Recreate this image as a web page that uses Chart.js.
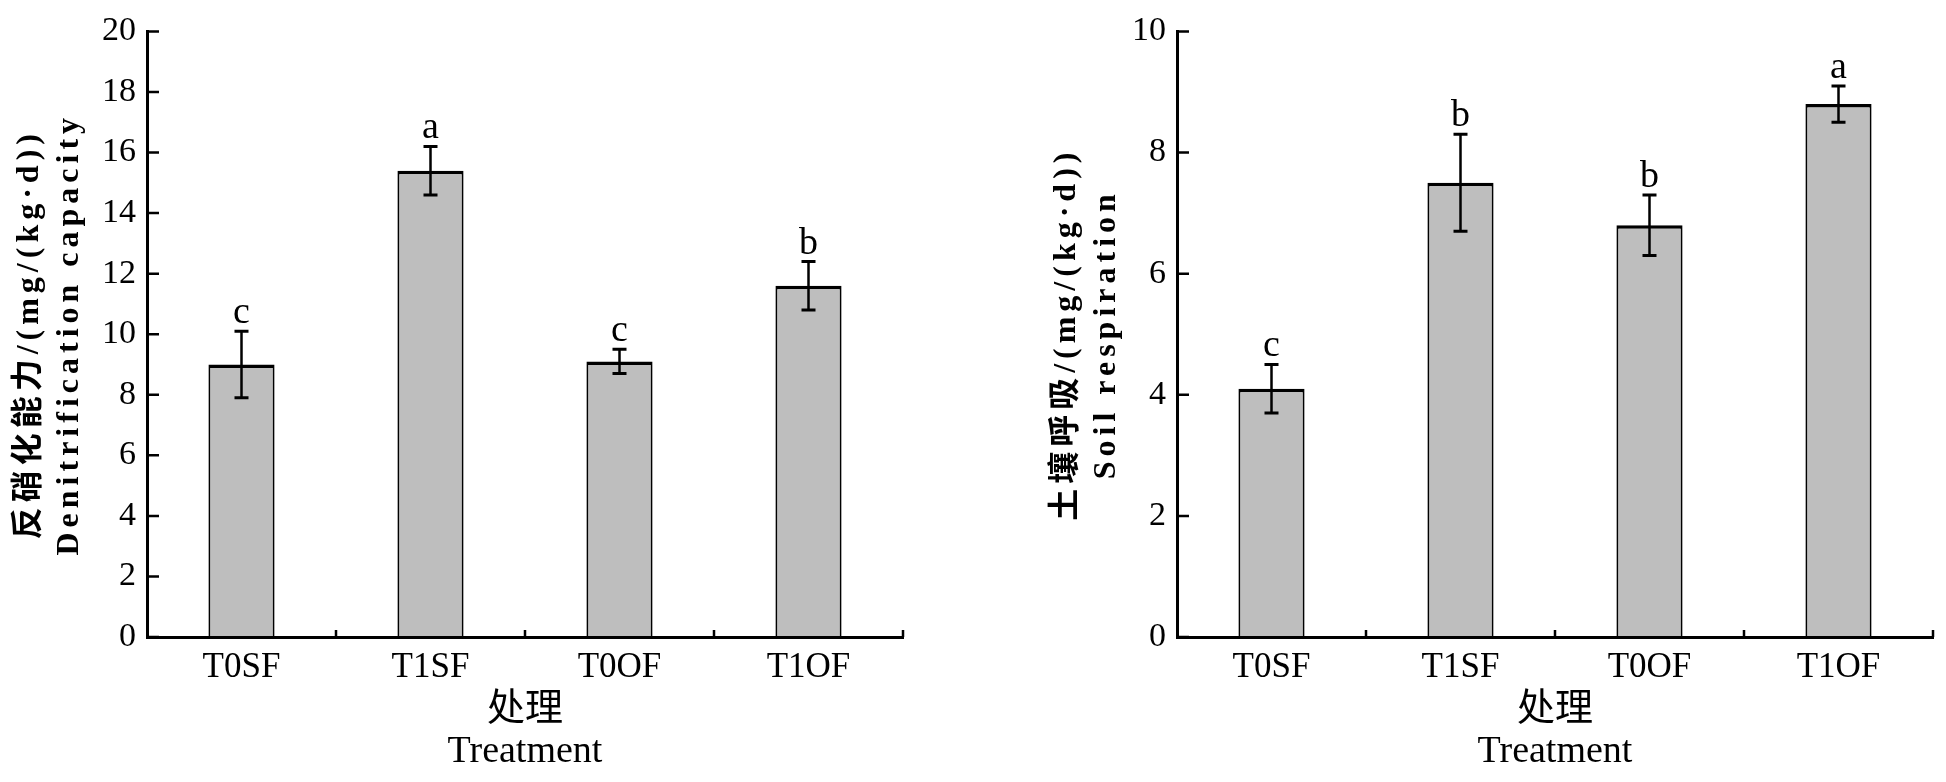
<!DOCTYPE html>
<html>
<head>
<meta charset="utf-8">
<script src="https://cdn.jsdelivr.net/npm/chart.js@4.4.0/dist/chart.umd.min.js"></script>
<style>
html,body{margin:0;padding:0;background:#fff;overflow:hidden;}
#wrap{position:relative;width:1946px;height:782px;}
canvas{position:absolute;top:0;}
#c1{left:0;}
#c2{left:973px;}
</style>
</head>
<body>
<div id="wrap">
<canvas id="c1" width="973" height="782"></canvas>
<canvas id="c2" width="973" height="782"></canvas>
</div>
<script>
const categories = ['T0SF', 'T1SF', 'T0OF', 'T1OF'];

const denitValues = [9.0, 15.4, 9.1, 11.6];
const denitErrors = [1.1, 0.8, 0.4, 0.8];
const denitLetters = ['c', 'a', 'c', 'b'];

const respValues = [4.1, 7.5, 6.8, 8.8];
const respErrors = [0.4, 0.8, 0.5, 0.3];
const respLetters = ['c', 'b', 'b', 'a'];

const denitTitle = ['反硝化能力/(mg/(kg·d))', 'Denitrification capacity'];
const respTitle = ['土壤呼吸/(mg/(kg·d))', 'Soil respiration'];
const xTitle = ['处理', 'Treatment'];

const denitMax = 20;
const respMax = 10;
const tickStep = 2;

const decor = {
  id: 'decor',
  beforeDraw(chart) {
    // spaced (typewriter-like) look for the y-axis title, drawn in the first layer
    chart.ctx.letterSpacing = '5px';
  },
  beforeDatasetsDraw(chart) {
    chart.ctx.letterSpacing = '0px';
  },
  afterDatasetsDraw(chart, args, opts) {
    const ctx = chart.ctx;
    const y = chart.scales.y;
    const meta = chart.getDatasetMeta(0);
    ctx.save();
    ctx.strokeStyle = '#000';
    ctx.fillStyle = '#000';
    meta.data.forEach((bar, i) => {
      const v = opts.values[i], e = opts.errors[i];
      const px = bar.x;
      const yt = y.getPixelForValue(v + e);
      const yb = y.getPixelForValue(v - e);
      ctx.lineWidth = 2.5;
      ctx.beginPath();
      ctx.moveTo(px, yt);
      ctx.lineTo(px, yb);
      ctx.stroke();
      ctx.lineWidth = 3;
      ctx.beginPath();
      ctx.moveTo(px - 7, yt);
      ctx.lineTo(px + 7, yt);
      ctx.moveTo(px - 7, yb);
      ctx.lineTo(px + 7, yb);
      ctx.stroke();
      ctx.font = '38px "Liberation Serif"';
      ctx.textAlign = 'center';
      ctx.textBaseline = 'alphabetic';
      ctx.fillText(opts.letters[i], px, yt - 8);
    });
    ctx.restore();
  },
  afterDraw(chart) {
    const ctx = chart.ctx;
    const x = chart.scales.x, y = chart.scales.y;
    const area = chart.chartArea;
    ctx.save();
    ctx.strokeStyle = '#000';
    ctx.lineWidth = 2.5;
    ctx.beginPath();
    y.ticks.forEach(t => {
      const py = y.getPixelForValue(t.value);
      ctx.moveTo(area.left, py);
      ctx.lineTo(area.left + 12, py);
    });
    for (let i = 1; i <= categories.length; i++) {
      const px = x.getPixelForValue(i - 0.5);
      ctx.moveTo(px, area.bottom);
      ctx.lineTo(px, area.bottom - 7);
    }
    ctx.stroke();
    ctx.restore();
  }
};

function makeChart(id, values, errors, letters, yTitle, yMax, cfg) {
  return new Chart(document.getElementById(id), {
    type: 'bar',
    data: {
      labels: categories,
      datasets: [{
        data: values,
        backgroundColor: '#bebebe',
        borderColor: '#000',
        borderWidth: {top: 3.5, left: 2, right: 2, bottom: 0},
        borderSkipped: false,
        barPercentage: 0.35,
        categoryPercentage: 1.0
      }]
    },
    options: {
      responsive: false,
      animation: false,
      events: [],
      layout: {padding: {left: 0, right: cfg.padRight, top: 29, bottom: 0}},
      plugins: {
        legend: {display: false},
        tooltip: {enabled: false},
        decor: {values: values, errors: errors, letters: letters}
      },
      scales: {
        x: {
          type: 'category',
          offset: true,
          grid: {display: false, drawTicks: false, z: 1},
          border: {display: true, color: '#000', width: 3, z: 1},
          ticks: {z: 1, color: '#000', padding: 10, font: {family: '"Liberation Serif"', size: 35}},
          title: {
            display: true,
            text: xTitle,
            color: '#000',
            font: {family: '"Liberation Serif", "Noto Sans CJK SC"', size: 38, lineHeight: 1.105},
            padding: {top: 0, bottom: 9}
          },
          afterFit(scale) { scale.height = 145; }
        },
        y: {
          min: 0,
          max: yMax,
          grid: {display: false, drawTicks: false},
          border: {display: true, color: '#000', width: 3},
          ticks: {z: 1, stepSize: tickStep, color: '#000', padding: 11, font: {family: '"Liberation Serif"', size: 34}},
          title: {
            display: true,
            text: yTitle,
            color: '#000',
            font: {family: '"Liberation Serif", "Noto Sans CJK SC"', size: 32, weight: 'bold', lineHeight: 1.25},
            padding: {top: cfg.titlePad, bottom: 0}
          },
          afterFit(scale) { scale.width = cfg.yWidth; }
        }
      }
    },
    plugins: [decor]
  });
}

makeChart('c1', denitValues, denitErrors, denitLetters, denitTitle, denitMax, {padRight: 70, yWidth: 147, titlePad: 10});
makeChart('c2', respValues, respErrors, respLetters, respTitle, respMax, {padRight: 13, yWidth: 204, titlePad: 74});
</script>
</body>
</html>
